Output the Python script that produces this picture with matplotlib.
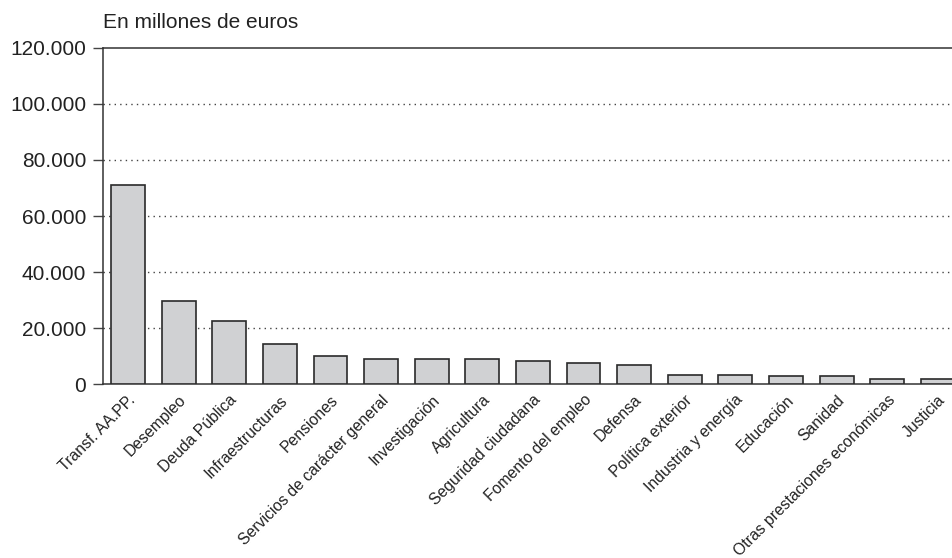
import matplotlib
matplotlib.use("Agg")
import matplotlib.pyplot as plt

# Gasto por políticas, en millones de euros
categorias = ["Transf. AA.PP.", "Desempleo", "Deuda Pública", "Infraestructuras",
              "Pensiones", "Servicios de carácter general", "Investigación",
              "Agricultura", "Seguridad ciudadana", "Fomento del empleo", "Defensa",
              "Política exterior", "Industria y energía", "Educación", "Sanidad",
              "Otras prestaciones económicas", "Justicia"]
valores = [71100, 29700, 22600, 14400, 9900, 8800, 8800, 8800, 8300, 7400, 6900,
           3300, 3300, 2800, 2800, 1800, 1800]
yticks = [0, 20000, 40000, 60000, 80000, 100000, 120000]
ylabels = ["0", "20.000", "40.000", "60.000", "80.000", "100.000", "120.000"]

plt.rcParams["font.family"] = ["Liberation Sans", "DejaVu Sans"]

fig = plt.figure(figsize=(9.52, 5.58), dpi=100)
ax = fig.add_axes([0.1082, 0.3118, 0.8918, 0.6022])

x = list(range(len(categorias)))
ax.bar(x, valores, width=0.67, color="#d0d1d3", edgecolor="#2a2a2a",
       linewidth=1.2, zorder=3)

ax.set_ylim(0, 120000)
ax.set_xlim(-0.494, 16.28)
ax.set_yticks(yticks)
ax.set_yticklabels(ylabels, fontsize=15, color="#222222")
ax.set_xticks(x)
ax.set_xticklabels(categorias, rotation=45, ha="right", rotation_mode="anchor",
                   fontsize=11.3, color="#222222")
ax.tick_params(axis="x", length=0, pad=6)
ax.tick_params(axis="y", length=7, width=1, color="#444444", pad=5)

for v in yticks[1:-1]:
    ax.axhline(v, color="#444444", linestyle=(0, (1, 3)), linewidth=1, zorder=1)

for s in ["left", "bottom", "top"]:
    ax.spines[s].set_color("#333333")
    ax.spines[s].set_linewidth(1.1)
ax.spines["right"].set_visible(False)

fig.text(103 / 952, 1 - 22 / 558, "En millones de euros", fontsize=15,
         color="#222222", va="center", ha="left")

fig.savefig("out.png", dpi=100)
